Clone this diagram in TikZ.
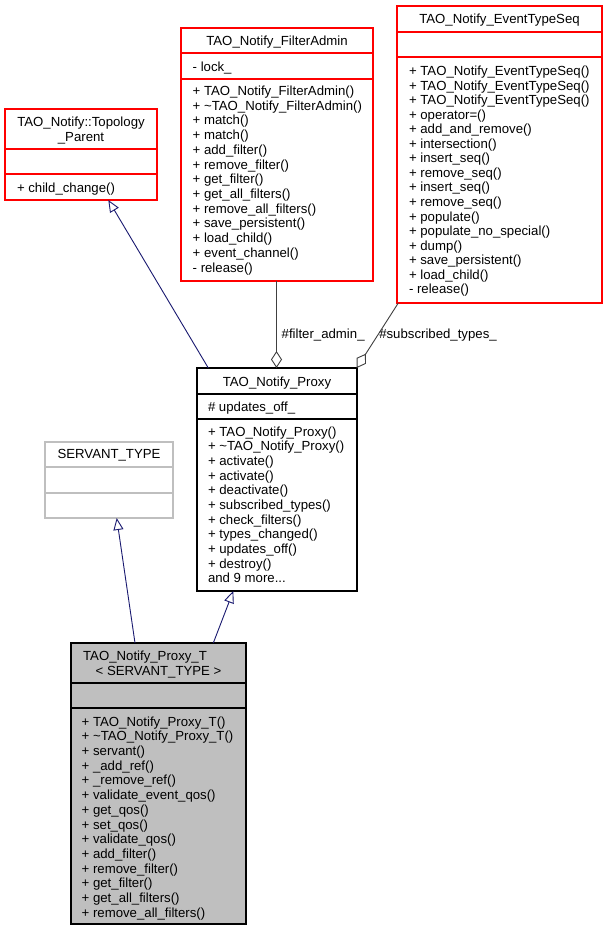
\documentclass[tikz,border=0pt]{standalone}
\usepackage{fontspec}
\setmainfont{Liberation Sans}
\usetikzlibrary{arrows.meta}
\definecolor{inhcol}{HTML}{191970}
\definecolor{aggcol}{HTML}{404040}
\definecolor{greyline}{HTML}{BFBFBF}
\definecolor{ptfill}{HTML}{BFBFBF}
\tikzset{
  classbox/.style={draw=#1, line width=1.1pt, rectangle, inner sep=0pt, outer sep=0pt, anchor=north west},
  txt/.style={inner sep=0pt, outer sep=0pt, anchor=base west, font=\fontsize{13.2}{14.7}\selectfont},
  ttl/.style={inner sep=0pt, outer sep=0pt, anchor=base, font=\fontsize{13.2}{14.7}\selectfont},
  inh/.style={draw=inhcol, line width=0.9pt, -{Triangle[open, length=12pt, width=10pt]}},
  agg/.style={draw=aggcol, line width=0.9pt, -{Diamond[open, length=17pt, width=11pt]}},
  lbl/.style={inner sep=0pt, outer sep=0pt, anchor=base west, font=\fontsize{13.2}{14.7}\selectfont},
}
\begin{document}
\begin{tikzpicture}[x=1pt, y=-1pt]
\useasboundingbox (0,0) rectangle (607,931);
\fill[white] (0,0) rectangle (607,931);

% ---- TAO_Notify::Topology_Parent
\node[classbox=red, minimum width=152pt, minimum height=91pt] (T) at (5,109) {};
\draw[red, line width=1.1pt] ([yshift=-40pt]T.north west) -- ([yshift=-40pt]T.north east);
\draw[red, line width=1.1pt] ([yshift=-65pt]T.north west) -- ([yshift=-65pt]T.north east);
\node[ttl] (T-t1) at (81,126.5) {TAO\_Notify::Topology};
\node[ttl] (T-t2) at (81,141) {\_Parent};
\node[txt] (T-m0) at (17,192.5) {+ child\_change()};

% ---- TAO_Notify_FilterAdmin
\node[classbox=red, minimum width=192pt, minimum height=253pt] (FA) at (181,28) {};
\draw[red, line width=1.1pt] ([yshift=-25pt]FA.north west) -- ([yshift=-25pt]FA.north east);
\draw[red, line width=1.1pt] ([yshift=-51pt]FA.north west) -- ([yshift=-51pt]FA.north east);
\node[ttl] (FA-t) at (277,45.5) {TAO\_Notify\_FilterAdmin};
\node[txt] (FA-a0) at (192.7,71.5) {- lock\_};
\foreach \t [count=\i from 0] in {
  + TAO\_Notify\_FilterAdmin(),
  + \textasciitilde TAO\_Notify\_FilterAdmin(),
  + match(),
  + match(),
  + add\_filter(),
  + remove\_filter(),
  + get\_filter(),
  + get\_all\_filters(),
  + remove\_all\_filters(),
  + save\_persistent(),
  + load\_child(),
  + event\_channel(),
  - release()}
  \node[txt] (FA-m\i) at (192.7,95.5+\i*14.72) {\t};

% ---- TAO_Notify_EventTypeSeq
\node[classbox=red, minimum width=205pt, minimum height=297pt] (ET) at (397,6) {};
\draw[red, line width=1.1pt] ([yshift=-26pt]ET.north west) -- ([yshift=-26pt]ET.north east);
\draw[red, line width=1.1pt] ([yshift=-51pt]ET.north west) -- ([yshift=-51pt]ET.north east);
\node[ttl] (ET-t) at (499.5,23.5) {TAO\_Notify\_EventTypeSeq};
\foreach \t [count=\i from 0] in {
  + TAO\_Notify\_EventTypeSeq(),
  + TAO\_Notify\_EventTypeSeq(),
  + TAO\_Notify\_EventTypeSeq(),
  + operator=(),
  + add\_and\_remove(),
  + intersection(),
  + insert\_seq(),
  + remove\_seq(),
  + insert\_seq(),
  + remove\_seq(),
  + populate(),
  + populate\_no\_special(),
  + dump(),
  + save\_persistent(),
  + load\_child(),
  - release()}
  \node[txt] (ET-m\i) at (409,75.5+\i*14.55) {\t};

% ---- TAO_Notify_Proxy
\node[classbox=black, minimum width=160pt, minimum height=223pt] (P) at (197,368) {};
\draw[black, line width=1.1pt] ([yshift=-26pt]P.north west) -- ([yshift=-26pt]P.north east);
\draw[black, line width=1.1pt] ([yshift=-51pt]P.north west) -- ([yshift=-51pt]P.north east);
\node[ttl] (P-t) at (277,386) {TAO\_Notify\_Proxy};
\node[txt] (P-a0) at (208,411.7) {\# updates\_off\_};
\foreach \t [count=\i from 0] in {
  + TAO\_Notify\_Proxy(),
  + \textasciitilde TAO\_Notify\_Proxy(),
  + activate(),
  + activate(),
  + deactivate(),
  + subscribed\_types(),
  + check\_filters(),
  + types\_changed(),
  + updates\_off(),
  + destroy()}
  \node[txt] (P-m\i) at (208,436+\i*14.67) {\t};
\node[txt] (P-m10) at (208,582.7) {and 9 more...};

% ---- SERVANT_TYPE
\node[classbox=greyline, minimum width=128pt, minimum height=76pt] (S) at (45,442) {};
\draw[greyline, line width=1.1pt] ([yshift=-25pt]S.north west) -- ([yshift=-25pt]S.north east);
\draw[greyline, line width=1.1pt] ([yshift=-51pt]S.north west) -- ([yshift=-51pt]S.north east);
\node[ttl] (S-t) at (109,458.5) {SERVANT\_TYPE};

% ---- TAO_Notify_Proxy_T< SERVANT_TYPE >
\node[classbox=black, fill=ptfill, minimum width=175pt, minimum height=281pt] (PT) at (71,643) {};
\draw[black, line width=1.1pt] ([yshift=-40pt]PT.north west) -- ([yshift=-40pt]PT.north east);
\draw[black, line width=1.1pt] ([yshift=-65pt]PT.north west) -- ([yshift=-65pt]PT.north east);
\node[ttl] (PT-t1) at (145,660.5) {TAO\_Notify\_Proxy\_T};
\node[ttl] (PT-t2) at (158.5,675) {< SERVANT\_TYPE >};
\foreach \t [count=\i from 0] in {
  + TAO\_Notify\_Proxy\_T(),
  + \textasciitilde TAO\_Notify\_Proxy\_T(),
  + servant(),
  + \_add\_ref(),
  + \_remove\_ref(),
  + validate\_event\_qos(),
  + get\_qos(),
  + set\_qos(),
  + validate\_qos(),
  + add\_filter(),
  + remove\_filter(),
  + get\_filter(),
  + get\_all\_filters(),
  + remove\_all\_filters()}
  \node[txt] (PT-m\i) at (81.7,726.2+\i*14.69) {\t};

% ---- connectors
\draw[inh] ([xshift=11.3pt]P.north west) -- ([xshift=103.3pt]T.south west);
\draw[agg] ([xshift=95.5pt]FA.south west) -- ([xshift=79.5pt]P.north west);
\draw[agg] ([xshift=1.3pt]ET.south west) -- ([xshift=-0.3pt]P.north east);
\draw[inh] ([xshift=64pt]PT.north west) -- ([xshift=71.7pt]S.south west);
\draw[inh] ([xshift=142.3pt]PT.north west) -- ([xshift=36.3pt]P.south west);

\node[lbl] (L1) at (281.7,338.5) {\#filter\_admin\_};
\node[lbl] (L2) at (379.3,338.5) {\#subscribed\_types\_};
\end{tikzpicture}
\end{document}
